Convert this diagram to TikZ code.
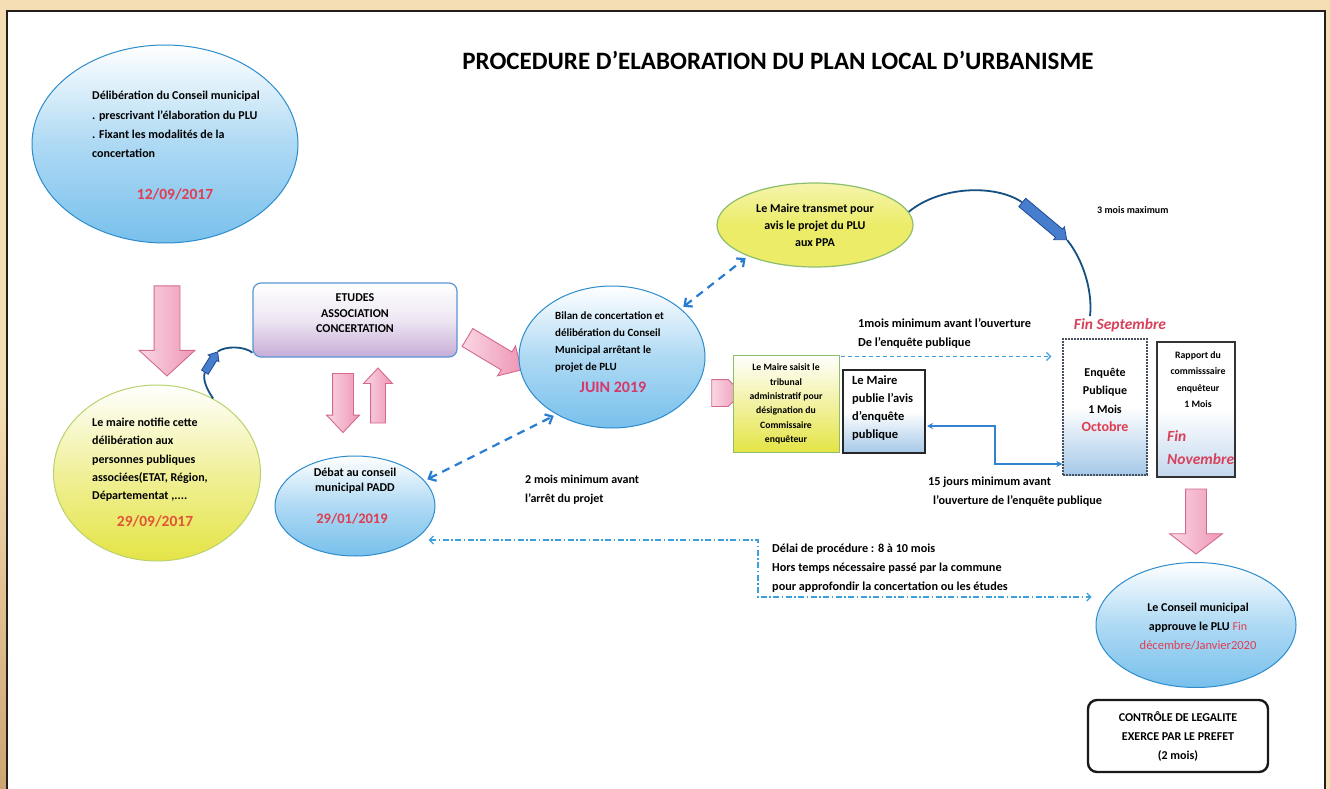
\documentclass[tikz,border=0pt]{standalone}
\usepackage{fontspec}
\setmainfont{Carlito}
\usetikzlibrary{shapes.geometric,shapes.arrows,arrows.meta,calc}
\definecolor{tanbg}{RGB}{245,222,179}
\definecolor{tandark}{RGB}{205,165,115}
\definecolor{framec}{RGB}{35,30,28}
\definecolor{cloudb}{RGB}{120,192,236}
\definecolor{ellline}{RGB}{45,140,205}
\definecolor{yelf}{RGB}{228,228,70}
\definecolor{yelf2}{RGB}{236,236,105}
\definecolor{yelline}{RGB}{185,210,110}
\definecolor{grnline}{RGB}{140,190,110}
\definecolor{lavf}{RGB}{198,172,215}
\definecolor{boxblue}{RGB}{90,150,210}
\definecolor{pinkf}{RGB}{238,150,182}
\definecolor{pinkl}{RGB}{250,215,228}
\definecolor{pinkline}{RGB}{212,105,140}
\definecolor{dashblue}{RGB}{40,125,210}
\definecolor{dashlight}{RGB}{60,160,220}
\definecolor{lineblue}{RGB}{50,130,210}
\definecolor{arcblue}{RGB}{20,80,130}
\definecolor{fatblue}{RGB}{70,125,205}
\definecolor{fatline}{RGB}{35,75,150}
\definecolor{datered}{RGB}{225,60,80}
\definecolor{dateorange}{RGB}{225,85,55}
\definecolor{juinred}{RGB}{215,55,105}
\definecolor{finred}{RGB}{215,65,90}
\definecolor{lightbluef}{RGB}{165,200,232}
\definecolor{rapf}{RGB}{195,215,238}
\definecolor{boxgray}{RGB}{70,80,95}
\newcommand{\myfs}[2]{\bfseries\fontsize{#1}{#2}\selectfont}
\newcommand{\shaft}[1]{\rule{0pt}{#1}}
\tikzset{
  cloudell/.style={ellipse, draw=ellline, line width=1pt, top color=white, bottom color=cloudb, middle color=cloudb!60, inner sep=0},
  yellell/.style={ellipse, draw=yelline, line width=1pt, top color=white, bottom color=yelf, middle color=white!45!yelf, inner sep=0},
  transell/.style={ellipse, draw=grnline, line width=1.2pt, top color=white!45!yelf2, bottom color=yelf2, middle color=yelf2, inner sep=0},
  etbox/.style={rectangle, rounded corners=8pt, draw=boxblue, line width=1.2pt, top color=white, bottom color=lavf, middle color=white!70!lavf, inner sep=0},
  tribbox/.style={rectangle, draw=grnline, line width=1pt, top color=white, bottom color=yelf, middle color=white!50!yelf, inner sep=0},
  pubbox/.style={rectangle, draw=black!85, line width=2pt, top color=white, bottom color=lightbluef, middle color=white, inner sep=0},
  enqbox/.style={rectangle, draw=boxgray, line width=1.4pt, dash pattern=on 2pt off 1pt, top color=white, bottom color=lightbluef, middle color=white, inner sep=0},
  rapbox/.style={rectangle, draw=black!80, line width=1.6pt, top color=white, bottom color=rapf, middle color=white, inner sep=0},
  ctrlbox/.style={rectangle, rounded corners=9pt, draw=black!90, line width=2.4pt, fill=white, inner sep=0},
  pinkarrow/.style={single arrow, draw=pinkline, line width=0.9pt, left color=pinkl, right color=pinkf, inner sep=0, single arrow head indent=0pt},
  fatarrow/.style={single arrow, draw=fatline, line width=0.8pt, fill=fatblue, inner sep=0, single arrow head indent=0pt},
  txt/.style={inner sep=0, font=\myfs{12}{19}},
  datetxt/.style={inner sep=0, font=\myfs{15.5}{17}},
  finstyle/.style={inner sep=0, text=finred, font=\bfseries\itshape\fontsize{15.5}{23}\selectfont},
  dashdbl/.style={dashblue, line width=2.2pt, dash pattern=on 8pt off 6pt, {Straight Barb[length=6pt,width=11pt]}-{Straight Barb[length=6pt,width=11pt]}, shorten <=3pt, shorten >=3pt},
  dashsingle/.style={dashlight, line width=1.2pt, dash pattern=on 4pt off 3pt, -{Straight Barb[length=4pt,width=8pt]}},
  dashdotline/.style={dashlight, line width=1.2pt, dash pattern=on 6pt off 2.5pt on 1.5pt off 2.5pt, {Straight Barb[length=4pt,width=8pt]}-{Straight Barb[length=4pt,width=8pt]}},
  arcline/.style={arcblue, line width=1.8pt}
}
\begin{document}
\begin{tikzpicture}[x=1pt,y=-1pt]
\useasboundingbox (0,0) rectangle (1330,789);
\fill[tanbg] (0,0) rectangle (1330,789);
\shade[top color=tanbg, bottom color=tandark] (0,400) rectangle (7,789);
\fill[white] (7,11) rectangle (1325,789);
\draw[framec, line width=2.2pt] (7,789) -- (7,11) -- (1325,11) -- (1325,789);

% title
\node[inner sep=0, font=\myfs{25}{28}] (title) at (778,60) {PROCEDURE D'ELABORATION DU PLAN LOCAL D'URBANISME};

% ellipse 1
\node[cloudell, minimum width=266, minimum height=198] (e1) at (165,144) {};
\node[txt, anchor=north west, align=left, font=\myfs{12}{19.4}] (e1t) at (92,91) {Délibération du Conseil municipal\\. prescrivant l'élaboration du PLU\\. Fixant les modalités de la\\concertation};
\node[datetxt, text=datered] (e1d) at (175,194) {12/09/2017};

% big pink arrow down
\node[pinkarrow, rotate=-90, minimum height=90, single arrow head extend=15pt, single arrow tip angle=95] (a1) at (167,325) {\shaft{25pt}};

% ellipse 2
\node[yellell, minimum width=207, minimum height=176] (e2) at (157,473) {};
\node[txt, anchor=north west, align=left, font=\myfs{12}{18.3}] (e2t) at (92,418) {Le maire notifie cette\\délibération aux\\personnes publiques\\associées(ETAT, Région,\\Départementat ,....};
\node[datetxt, text=dateorange] (e2d) at (155,521) {29/09/2017};

% etudes box
\node[etbox, minimum width=204, minimum height=74] (et) at (355,320) {};
\node[txt, align=center, font=\myfs{12}{15.5}] (ett) at (355,313.5) {ETUDES\\ASSOCIATION\\CONCERTATION};

% curved connector ellipse 2 -> etudes with small fat arrow
\node[fatarrow, rotate=58, minimum height=24, single arrow head extend=2.5pt, single arrow tip angle=80] (fb) at (210,364) {\shaft{7pt}};
\draw[arcline] (e2.53) .. controls (206,388) and (203,380) .. (fb.tail);
\draw[arcline] (fb.tip) .. controls (226,346) and (244,346) .. ($(et.south west)+(0,-5)$);

% up/down arrows
\node[pinkarrow, rotate=-90, minimum height=59, single arrow head extend=6pt, single arrow tip angle=87] (a2) at (343,397.5) {\shaft{20pt}};
\node[pinkarrow, rotate=90, minimum height=55, single arrow head extend=7pt, single arrow tip angle=86] (a3) at (378,399.5) {\shaft{14pt}};

% debat
\node[cloudell, minimum width=160, minimum height=100] (deb) at (355,506) {};
\node[txt, align=center, font=\myfs{12}{15.5}] (debt) at (355,480.5) {Débat au conseil\\municipal PADD};
\node[datetxt, text=datered, font=\myfs{14.5}{17}] (debd) at (352,519) {29/01/2019};

% diagonal pink arrow
\node[pinkarrow, rotate=-31, minimum height=63, single arrow head extend=7pt, single arrow tip angle=90] (a4) at (490,351) {\shaft{20pt}};

% bilan
\node[cloudell, minimum width=186, minimum height=142] (bil) at (612,357) {};
\node[txt, anchor=north west, align=left, font=\myfs{11}{16.7}] (bilt) at (555,312) {Bilan de concertation et\\délibération du Conseil\\Municipal arrêtant le\\projet de PLU};
\node[datetxt, text=juinred, font=\myfs{16}{18}] (bild) at (613,387) {JUIN 2019};

% maire transmet
\node[transell, minimum width=196, minimum height=84] (pm) at (815,225) {};
\node[txt, align=center, font=\myfs{12}{17}] (pmt) at (815,225) {Le Maire transmet pour\\avis le projet du PLU\\aux PPA};

% dashed double arrows
\draw[dashdbl] (deb.20) -- (bil.226);
\draw[dashdbl] (bil.35) -- (pm.205);

% 3 mois arc
\node[finstyle] (finsep) at (1120,325) {Fin Septembre};
\node[fatarrow, rotate=-40, minimum height=58, single arrow head extend=3pt, single arrow tip angle=80] (fa) at (1042,219) {\shaft{10pt}};
\draw[arcline] (pm.8) .. controls (940,186) and (995,184) .. (fa.tail);
\draw[arcline] (fa.tip) .. controls (1082,258) and (1093,290) .. ($(finsep.north)+(-30,-2)$);
\node[txt, anchor=west, font=\myfs{10}{12}] (tmm) at (1097,210) {3 mois maximum};

% 1 mois label
\node[txt, anchor=north west, align=left, font=\myfs{12.3}{19}] (unm) at (858,318) {1mois minimum avant l'ouverture\\De l'enquête publique};

% small pentagon arrow
\node[pinkarrow, minimum height=30, single arrow head extend=0pt, single arrow tip angle=90] (a5) at (720,393) {\shaft{26pt}};

% tribunal box
\node[tribbox, minimum width=106, minimum height=97] (trib) at (786,403.5) {};
\node[txt, align=center, font=\myfs{9.7}{14.4}] (tribt) at (786,404) {Le Maire saisit le\\tribunal\\administratif pour\\désignation du\\Commissaire\\enquêteur};

% maire publie box
\node[pubbox, minimum width=82, minimum height=83] (pub) at (884,411.5) {};
\node[txt, anchor=north west, align=left, font=\myfs{12.5}{17.7}] (pubt) at (852,376) {Le Maire\\publie l'avis\\d'enquête\\publique};

% enquete
\node[enqbox, minimum width=84, minimum height=136] (enq) at (1105,407) {};
\node[txt, align=center, font=\myfs{12}{18.5}] (enqt) at (1105,400) {Enquête\\Publique\\1 Mois\\\textcolor{datered}{\fontsize{14}{18.5}\selectfont Octobre}};

% rapport
\node[rapbox, minimum width=78, minimum height=135] (rap) at (1196,409.5) {};
\node[txt, align=center, font=\myfs{9.8}{16.3}] (rapt) at (1198,379.5) {Rapport du\\commisssaire\\enquêteur\\1 Mois};
\node[finstyle, anchor=north west, align=left] (rapfin) at (1167,430) {Fin\\Novembre};

% dashed arrow 1 mois
\draw[dashsingle, shorten >=11pt] ($(trib.north east)+(1,2)$) -- ($(trib.north east -| enq.west)+(0,2)$);

% blue double arrow 15 jours
\draw[lineblue, line width=1.2pt, {Stealth[length=6pt,width=6pt]}-{Stealth[length=6pt,width=6pt]}] ($(pub.east)+(1,14.5)$) -- ++(68,0) |- ($(enq.west)+(0,57)$);
\node[txt, anchor=north west, align=left, font=\myfs{12.2}{19}] (qj) at (928,477) {15 jours minimum avant\\\hspace*{5pt}l'ouverture de l'enquête publique};

% pink arrow under rapport
\node[pinkarrow, rotate=-90, minimum height=65, single arrow head extend=16pt, single arrow tip angle=105] (a6) at (1196,517.5) {\shaft{20pt}};

% final ellipse
\node[cloudell, minimum width=200, minimum height=125] (fin) at (1196,625) {};
\node[txt, align=center, font=\myfs{12}{19}] (fint) at (1198,617.5) {Le Conseil municipal\\approuve le PLU \textcolor{datered}{\mdseries Fin}};
\node[inner sep=0, text=datered, font=\fontsize{12.5}{14}\selectfont] (find) at (1198,645) {décembre/Janvier2020};

% controle
\node[ctrlbox, minimum width=180, minimum height=72] (ctrl) at (1178,736) {};
\node[txt, align=center, font=\myfs{12}{19}] (ctrlt) at (1178,736) {CONTRÔLE DE LEGALITE\\EXERCE PAR LE PREFET\\(2 mois)};

% 2 mois label
\node[txt, anchor=north west, align=left, font=\myfs{12}{19}] (dm) at (525,475) {2 mois minimum avant\\l'arrêt du projet};

% dash-dot delay line
\coordinate (dd1) at (758,540);
\coordinate (dd2) at (758,597);
\draw[dashdotline, shorten <=8pt, shorten >=12pt] (deb.-24 |- dd1) -- (dd1) -- (dd2) -- (fin.165 |- dd2);
\node[txt, anchor=north west, align=left, font=\myfs{12.2}{19}] (delai) at (772,544) {Délai de procédure : 8 à 10 mois\\Hors temps nécessaire passé par la commune\\pour approfondir la concertation ou les études};
\end{tikzpicture}
\end{document}
